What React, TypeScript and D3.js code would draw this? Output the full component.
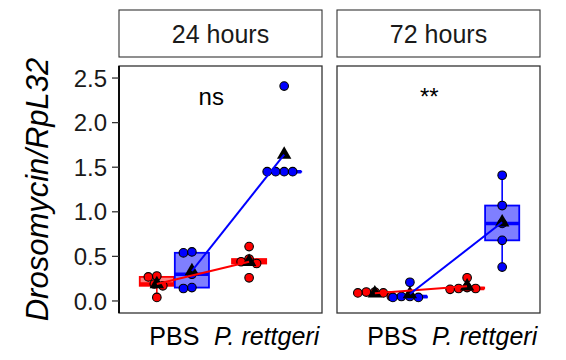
import React from 'react';
import * as d3 from 'd3';

// facets, x categories, genotype series
const panels = ['24 hours', '72 hours'];
const treatments = ['PBS', 'P. rettgeri'];
const genotypes = ['genotype1', 'genotype2'];
const genotypeColors = ['#ff0000', '#0000ff'];
const signifLabels = ['ns', '**'];
const yTicks = [0, 0.5, 1.0, 1.5, 2.0, 2.5];

// Drosomycin/RpL32 values
const h24Genotype1PBS = [0.28, 0.27, 0.19, 0.17, 0.04];
const h24Genotype2PBS = [0.55, 0.54, 0.30, 0.15, 0.14];
const h24Genotype1Pr = [0.61, 0.47, 0.44, 0.42, 0.26];
const h24Genotype2Pr = [2.41, 1.45, 1.45, 1.45, 1.45];
const h72Genotype1PBS = [0.10, 0.10, 0.09, 0.09, 0.05];
const h72Genotype2PBS = [0.21, 0.05, 0.05, 0.04, 0.04];
const h72Genotype1Pr = [0.26, 0.15, 0.14, 0.14, 0.13];
const h72Genotype2Pr = [1.41, 1.07, 0.87, 0.68, 0.38];

// [panel][genotype][treatment]
const values = [
  [[h24Genotype1PBS, h24Genotype1Pr], [h24Genotype2PBS, h24Genotype2Pr]],
  [[h72Genotype1PBS, h72Genotype1Pr], [h72Genotype2PBS, h72Genotype2Pr]],
];

const W = 566;
const H = 360;
const panelTop = 66;
const panelBottom = 313;
const panelLefts = [119, 337];
const panelWidth = 203;
const stripTop = 10;
const stripBottom = 57;
const font = '"Liberation Sans", Arial, Helvetica, sans-serif';
const R = 4.3;

function boxStats(v: number[]) {
  const s = [...v].sort(d3.ascending);
  const q1 = d3.quantile(s, 0.25)!;
  const med = d3.quantile(s, 0.5)!;
  const q3 = d3.quantile(s, 0.75)!;
  const iqr = q3 - q1;
  const lo = d3.min(s.filter(d => d >= q1 - 1.5 * iqr))!;
  const hi = d3.max(s.filter(d => d <= q3 + 1.5 * iqr))!;
  return { q1, med, q3, lo, hi, mean: d3.mean(s)! };
}

// simple beeswarm: shift each point sideways until it doesn't overlap
function swarm(ys: number[]) {
  const placed: { x: number; y: number }[] = [];
  ys.forEach(y => {
    for (let k = 0; k < 200; k++) {
      const off = (k % 2 === 0 ? 1 : -1) * Math.ceil(k / 2) * 0.5;
      if (placed.every(p => Math.hypot(p.x - off, p.y - y) >= 2 * R - 0.2)) {
        placed.push({ x: off, y });
        break;
      }
    }
  });
  return placed;
}

const y = d3.scaleLinear().domain([-0.135, 2.635]).range([panelBottom, panelTop]);

function Panel({ pi }: { pi: number }) {
  const left = panelLefts[pi];
  const x = d3.scalePoint<string>().domain(treatments).range([left, left + panelWidth]).padding(0.6);
  const step = x.step();
  const dodge = d3.scalePoint<string>().domain(genotypes).range([-0.19 * step, 0.19 * step]);
  const boxW = 0.37 * step;

  const groups = genotypes.map((g, gi) =>
    treatments.map((t, ti) => {
      const v = values[pi][gi][ti];
      const cx = x(t)! + dodge(g)!;
      return { g, gi, t, cx, v, st: boxStats(v) };
    })
  );

  const line = d3.line<{ cx: number; st: { mean: number } }>()
    .x(d => d.cx)
    .y(d => y(d.st.mean));

  const tri = d3.symbol(d3.symbolTriangle, 90)();

  return (
    <g>
      {/* strip */}
      <rect x={left} y={stripTop} width={panelWidth} height={stripBottom - stripTop}
        fill="#fff" stroke="#333" strokeWidth={1.1} />
      <text x={left + panelWidth / 2} y={(stripTop + stripBottom) / 2} dy="0.36em"
        textAnchor="middle" fontSize={25} fill="#1a1a1a">{panels[pi]}</text>

      {/* boxes */}
      {groups.flat().map((d, i) => {
        const c = genotypeColors[d.gi];
        const top = y(d.st.q3);
        const bot = y(d.st.q1);
        return (
          <g key={'b' + i}>
            <line x1={d.cx} x2={d.cx} y1={y(d.st.hi)} y2={top} stroke={c} strokeWidth={1.6} />
            <line x1={d.cx} x2={d.cx} y1={bot} y2={y(d.st.lo)} stroke={c} strokeWidth={1.6} />
            <rect x={d.cx - boxW / 2} y={top} width={boxW} height={Math.max(bot - top, 0.01)}
              fill={c} fillOpacity={0.5} stroke={c} strokeWidth={1.8} />
            <line x1={d.cx - boxW / 2} x2={d.cx + boxW / 2} y1={y(d.st.med)} y2={y(d.st.med)}
              stroke={c} strokeWidth={3.5} />
          </g>
        );
      })}

      {/* points */}
      {groups.flat().map((d, i) =>
        swarm(d.v.map(v => y(v))).map((p, j) => (
          <circle key={'p' + i + '-' + j} cx={d.cx + p.x} cy={p.y} r={R}
            fill={genotypeColors[d.gi]} stroke="#000" strokeWidth={1.1} />
        ))
      )}

      {/* means */}
      {groups.flat().map((d, i) => (
        <path key={'m' + i} d={tri!} transform={`translate(${d.cx},${y(d.st.mean)})`} fill="#000" />
      ))}

      {/* mean lines */}
      {groups.map((gr, gi) => (
        <path key={'l' + gi} d={line(gr)!} fill="none" stroke={genotypeColors[gi]} strokeWidth={2} />
      ))}

      {/* significance */}
      <text x={x('PBS')! + 0.4 * step} y={y(2.3)} dy="0.36em" textAnchor="middle"
        fontSize={24} fill="#000">{signifLabels[pi]}</text>

      {/* panel border */}
      <rect x={left} y={panelTop} width={panelWidth} height={panelBottom - panelTop}
        fill="none" stroke="#333" strokeWidth={1.3} />

      {/* x tick labels */}
      {treatments.map(t => (
        <text key={t} x={x(t)} y={panelBottom + 14} dy="0.71em" textAnchor="middle"
          fontSize={25} fill="#000" fontStyle={t === 'PBS' ? 'normal' : 'italic'}>{t}</text>
      ))}
    </g>
  );
}

export default function App() {
  const axisX = panelLefts[0];
  return (
    <svg width={W} height={H} style={{ position: 'absolute', left: 0, top: 0, background: '#fff' }}
      fontFamily={font}>
      {panels.map((_, pi) => <Panel key={pi} pi={pi} />)}
      {/* y axis */}
      <line x1={axisX} x2={axisX} y1={panelTop} y2={panelBottom} stroke="#000" strokeWidth={1.8} />
      {yTicks.map(t => (
        <g key={t} transform={`translate(0,${y(t)})`}>
          <line x1={axisX - 7} x2={axisX} stroke="#333" strokeWidth={1.3} />
          <text x={axisX - 12} dy="0.36em" textAnchor="end" fontSize={24} fill="#1a1a1a">
            {t.toFixed(1)}
          </text>
        </g>
      ))}
      <text transform={`translate(48,${(panelTop + panelBottom) / 2}) rotate(-90)`}
        textAnchor="middle" fontSize={31} fontStyle="italic" fill="#000">Drosomycin/RpL32</text>
    </svg>
  );
}
